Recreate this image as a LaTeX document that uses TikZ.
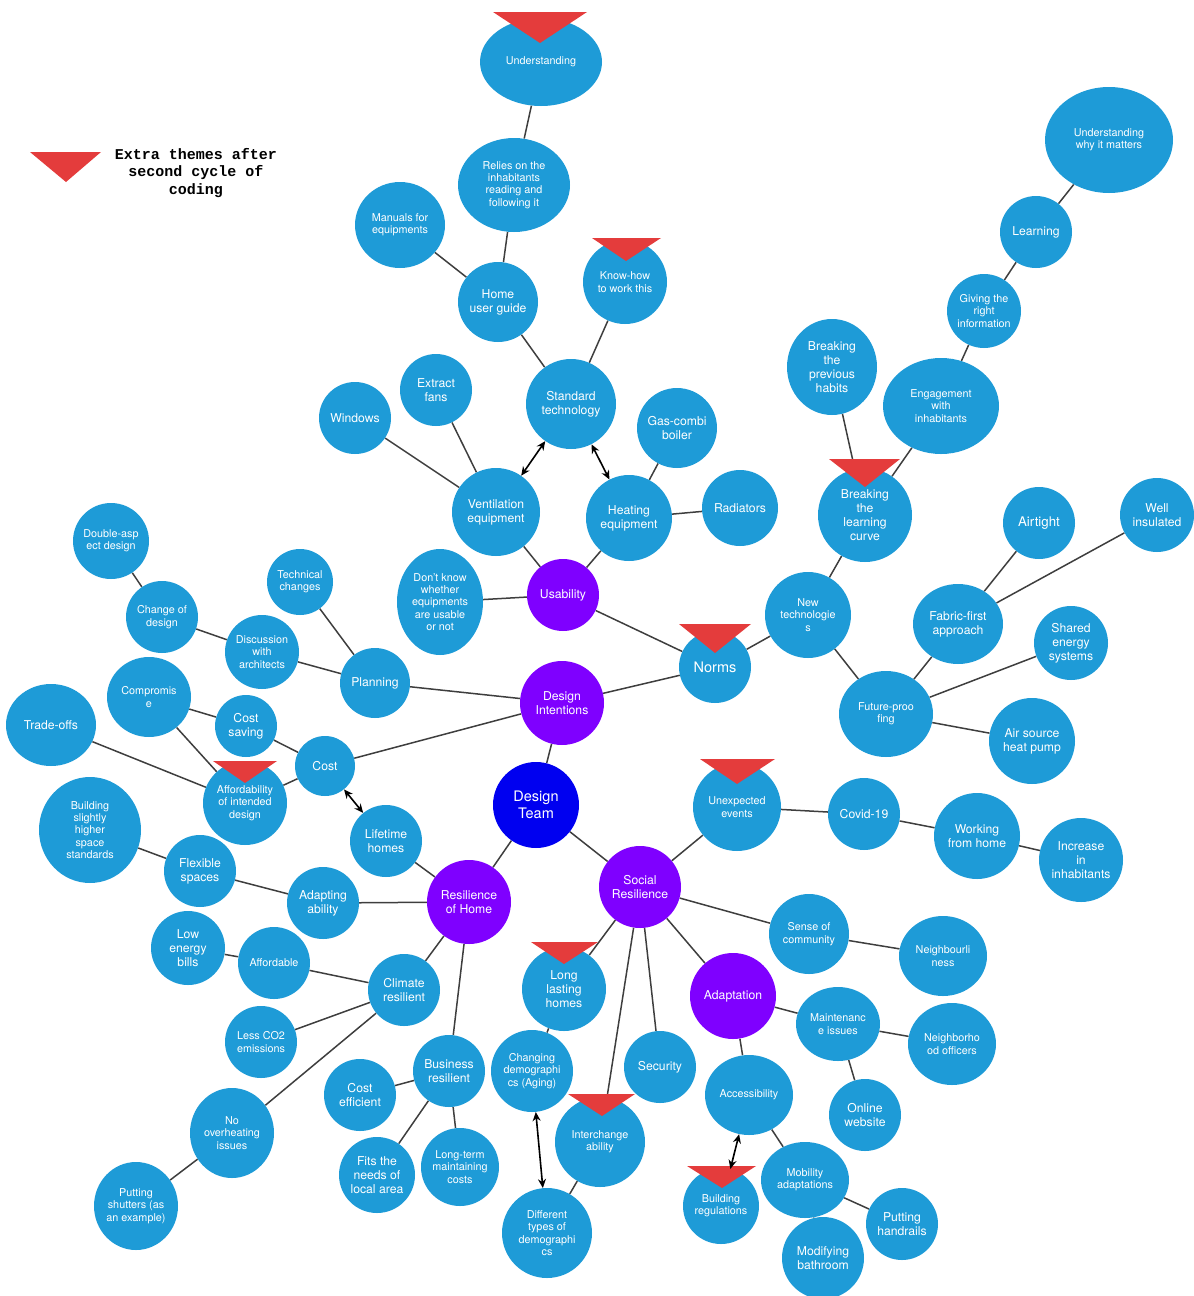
\documentclass[tikz,border=0pt]{standalone}
\usepackage{fontspec}
\setmainfont{TeX Gyre Heros}
\newfontfamily\legendfont{Liberation Mono}
\usetikzlibrary{shapes.geometric,arrows.meta,backgrounds}

\definecolor{bubblue}{RGB}{30,155,215}
\definecolor{themepurple}{RGB}{127,0,255}
\definecolor{coreblue}{RGB}{0,0,240}
\definecolor{newred}{RGB}{228,60,60}
\definecolor{linkgray}{RGB}{62,62,62}

\tikzset{
  bub/.style={circle, fill=bubblue, text=white, inner sep=0pt, align=center},
  ell/.style={ellipse, fill=bubblue, text=white, inner sep=0pt, align=center},
  theme/.style={bub, fill=themepurple},
  core/.style={bub, fill=coreblue},
  fs/.style={font=\fontsize{10.8}{12.3}\selectfont},
  fm/.style={font=\fontsize{12.2}{14}\selectfont},
  fb/.style={font=\fontsize{13.3}{15}\selectfont},
  fl/.style={font=\fontsize{14.5}{16.5}\selectfont},
  link/.style={draw=linkgray, line width=1.5pt},
  both/.style={{Stealth[length=9pt,width=8pt]}-{Stealth[length=9pt,width=8pt]}, line width=1.6pt, draw=black},
  newtheme/.style={fill=newred}
}

\begin{document}
\begin{tikzpicture}[x=1pt,y=-1pt]
\useasboundingbox (0,0) rectangle (1194,1296);

% ---------- usability branch ----------
\node[ell,fs,minimum width=122pt,minimum height=88pt] (und) at (541,62) {Understanding};
\node[ell,fs,minimum width=112pt,minimum height=94pt] (relies) at (514,185) {Relies on the\\inhabitants\\reading and\\following it};
\node[ell,fs,minimum width=90pt,minimum height=86pt] (manuals) at (400,225) {Manuals for\\equipments};
\node[bub,fm,minimum size=80pt] (guide) at (498,302) {Home\\user guide};
\node[bub,fs,minimum size=84pt] (knowhow) at (625,282) {Know-how\\to work this};
\node[bub,fm,minimum size=90pt] (stdtech) at (571,404) {Standard\\technology};
\node[bub,fm,minimum size=72pt] (fans) at (436,390) {Extract\\fans};
\node[bub,fm,minimum size=72pt] (windows) at (355,418) {Windows};
\node[bub,fm,minimum size=80pt] (boiler) at (677,428) {Gas-combi\\boiler};
\node[bub,fm,minimum size=88pt] (vent) at (496,512) {Ventilation\\equipment};
\node[bub,fm,minimum size=86pt] (heat) at (629,518) {Heating\\equipment};
\node[bub,fm,minimum size=76pt] (radiators) at (740,508) {Radiators};
\node[theme,fm,minimum size=72pt] (usability) at (563,595) {Usability};
\node[ell,fs,minimum width=86pt,minimum height=106pt] (dontknow) at (440,602) {Don’t know\\whether\\equipments\\are usable\\or not};

% ---------- centre ----------
\node[bub,fl,minimum size=72pt] (norms) at (715,667) {Norms};
\node[theme,fm,minimum size=84pt] (intent) at (562,703) {Design\\Intentions};
\node[core,fl,minimum size=86pt] (team) at (536,805) {Design\\Team};
\node[bub,fs,minimum size=88pt] (unexp) at (737,807) {Unexpected\\events};

% ---------- norms branch ----------
\node[ell,fs,minimum width=128pt,minimum height=106pt] (why) at (1109,140) {Understanding\\why it matters};
\node[bub,fm,minimum size=72pt] (learning) at (1036,232) {Learning};
\node[bub,fs,minimum size=74pt] (giving) at (984,311) {Giving the\\right\\information};
\node[ell,fm,minimum width=90pt,minimum height=96pt] (habits) at (832,367) {Breaking\\the\\previous\\habits};
\node[ell,fs,minimum width=116pt,minimum height=96pt] (engage) at (941,406) {Engagement\\with\\inhabitants};
\node[bub,fm,minimum size=94pt] (curve) at (865,515) {Breaking\\the\\learning\\curve};
\node[bub,fs,minimum size=86pt] (newtech) at (808,615) {New\\technologie\\s};
\node[bub,fb,minimum size=72pt] (airtight) at (1039,523) {Airtight};
\node[bub,fm,minimum size=74pt] (insulated) at (1157,515) {Well\\insulated};
\node[ell,fm,minimum width=90pt,minimum height=80pt] (fabric) at (958,624) {Fabric-first\\approach};
\node[bub,fm,minimum size=74pt] (shared) at (1071,643) {Shared\\energy\\systems};
\node[ell,fs,minimum width=94pt,minimum height=86pt] (future) at (886,714) {Future-proo\\fing};
\node[bub,fm,minimum size=86pt] (pump) at (1032,741) {Air source\\heat pump};

% ---------- design intentions branch ----------
\node[bub,fs,minimum size=76pt] (double) at (111,541) {Double-asp\\ect design};
\node[bub,fs,minimum size=72pt] (change) at (162,617) {Change of\\design};
\node[bub,fs,minimum size=66pt] (technical) at (300,582) {Technical\\changes};
\node[bub,fs,minimum size=74pt] (discuss) at (262,652) {Discussion\\with\\architects};
\node[bub,fm,minimum size=70pt] (planning) at (375,683) {Planning};
\node[ell,fs,minimum width=84pt,minimum height=80pt] (compromise) at (149,697) {Compromis\\e};
\node[ell,fm,minimum width=90pt,minimum height=82pt] (tradeoffs) at (51,725) {Trade-offs};
\node[bub,fm,minimum size=62pt] (saving) at (246,726) {Cost\\saving};
\node[bub,fm,minimum size=60pt] (cost) at (325,766) {Cost};
\node[bub,fs,minimum size=84pt] (afford) at (245,803) {Affordability\\of intended\\design};

% ---------- resilience of home branch ----------
\node[bub,fm,minimum size=72pt] (lifetime) at (386,841) {Lifetime\\homes};
\node[ell,fs,minimum width=102pt,minimum height=106pt] (higher) at (90,830) {Building\\slightly\\higher\\space\\standards};
\node[bub,fm,minimum size=72pt] (flexible) at (200,871) {Flexible\\spaces};
\node[bub,fm,minimum size=72pt] (adapting) at (323,903) {Adapting\\ability};
\node[bub,fm,minimum size=74pt] (bills) at (188,948) {Low\\energy\\bills};
\node[bub,fs,minimum size=72pt] (affordable) at (274,963) {Affordable};
\node[bub,fm,minimum size=72pt] (climate) at (404,990) {Climate\\resilient};
\node[bub,fs,minimum size=72pt] (co2) at (261,1042) {Less CO2\\emissions};
\node[bub,fm,minimum size=72pt] (efficient) at (360,1095) {Cost\\efficient};
\node[ell,fs,minimum width=84pt,minimum height=90pt] (overheat) at (232,1133) {No\\overheating\\issues};
\node[ell,fs,minimum width=84pt,minimum height=88pt] (shutters) at (136,1206) {Putting\\shutters (as\\an example)};
\node[bub,fm,minimum size=76pt] (fits) at (377,1175) {Fits the\\needs of\\local area};
\node[theme,fm,minimum size=84pt] (home) at (469,902) {Resilience\\of Home};
\node[bub,fm,minimum size=72pt] (business) at (449,1071) {Business\\resilient};
\node[bub,fs,minimum size=78pt] (longterm) at (460,1167) {Long-term\\maintaining\\costs};

% ---------- social resilience branch ----------
\node[theme,fm,minimum size=82pt] (social) at (640,887) {Social\\Resilience};
\node[bub,fm,minimum size=72pt] (covid) at (864,814) {Covid-19};
\node[bub,fm,minimum size=86pt] (wfh) at (977,836) {Working\\from home};
\node[bub,fm,minimum size=84pt] (increase) at (1081,860) {Increase\\in\\inhabitants};
\node[bub,fm,minimum size=84pt] (lasting) at (564,989) {Long\\lasting\\homes};
\node[bub,fs,minimum size=82pt] (changing) at (532,1071) {Changing\\demographi\\cs (Aging)};
\node[bub,fm,minimum size=72pt] (security) at (660,1067) {Security};
\node[bub,fs,minimum size=90pt] (interchange) at (600,1142) {Interchange\\ability};
\node[bub,fs,minimum size=90pt] (types) at (547,1233) {Different\\types of\\demographi\\cs};
\node[theme,fm,minimum size=86pt] (adaptation) at (733,996) {Adaptation};
\node[ell,fs,minimum width=88pt,minimum height=80pt] (access) at (749,1095) {Accessibility};
\node[bub,fs,minimum size=76pt] (regs) at (721,1206) {Building\\regulations};
\node[ell,fs,minimum width=88pt,minimum height=76pt] (mobility) at (805,1180) {Mobility\\adaptations};
\node[bub,fm,minimum size=82pt] (bathroom) at (823,1258) {Modifying\\bathroom};
\node[bub,fm,minimum size=72pt] (handrails) at (902,1224) {Putting\\handrails};
\node[bub,fs,minimum size=80pt] (sense) at (809,934) {Sense of\\community};
\node[ell,fs,minimum width=88pt,minimum height=80pt] (neighbour) at (943,956) {Neighbourli\\ness};
\node[ell,fs,minimum width=84pt,minimum height=74pt] (maint) at (838,1024) {Maintenanc\\e issues};
\node[ell,fs,minimum width=88pt,minimum height=82pt] (officers) at (952,1044) {Neighborho\\od officers};
\node[bub,fm,minimum size=72pt] (website) at (865,1115) {Online\\website};

% ---------- connectors ----------
\begin{scope}[on background layer]
  \foreach \a/\b in {und/relies, relies/guide, manuals/guide, guide/stdtech, knowhow/stdtech,
      windows/vent, fans/vent, boiler/heat, radiators/heat,
      vent/usability, heat/usability, dontknow/usability,
      usability/norms, norms/intent, norms/newtech,
      newtech/curve, curve/habits, curve/engage, engage/giving, giving/learning, learning/why,
      newtech/future, future/fabric, fabric/airtight, fabric/insulated, future/shared, future/pump,
      intent/planning, planning/technical, planning/discuss, discuss/change, change/double,
      intent/cost, cost/saving, saving/compromise, compromise/afford, cost/afford, tradeoffs/afford,
      intent/team, team/home, team/social,
      lifetime/home, home/adapting, adapting/flexible, flexible/higher,
      home/climate, climate/affordable, affordable/bills, climate/co2, climate/overheat, overheat/shutters,
      home/business, business/efficient, business/fits, business/longterm,
      social/unexp, unexp/covid, covid/wfh, wfh/increase,
      social/sense, sense/neighbour,
      social/lasting, lasting/changing, social/interchange, interchange/types, social/security,
      social/adaptation, adaptation/maint, maint/officers, maint/website,
      adaptation/access, access/mobility, mobility/handrails, mobility/bathroom}
    \draw[link] (\a) -- (\b);
\end{scope}

% ---------- themes added in the second coding cycle ----------
\fill[newtheme] (493,12) -- (587,12) -- (540,43) -- cycle;
\fill[newtheme] (592,238) -- (661,238) -- (626,261) -- cycle;
\fill[newtheme] (829,459) -- (900,459) -- (865,487) -- cycle;
\fill[newtheme] (679,624) -- (751,624) -- (715,653) -- cycle;
\fill[newtheme] (213,761) -- (277,761) -- (245,783) -- cycle;
\fill[newtheme] (700,759) -- (775,759) -- (737,784) -- cycle;
\fill[newtheme] (531,942) -- (598,942) -- (564,964) -- cycle;
\fill[newtheme] (568,1094) -- (635,1094) -- (602,1116) -- cycle;
\fill[newtheme] (687,1166) -- (756,1166) -- (722,1188) -- cycle;

% ---------- two-way relations ----------
\draw[both] (stdtech) -- (vent);
\draw[both] (stdtech) -- (heat);
\draw[both] (cost) -- (lifetime);
\draw[both] (changing) -- (types);
\draw[both] (access) -- (regs);

% ---------- legend ----------
\fill[newtheme] (30,152) -- (101,152) -- (66,182) -- cycle;
\node[font=\legendfont\bfseries\fontsize{15}{17.3}\selectfont, align=center] (legend) at (196,173) {Extra themes after\\second cycle of\\coding};

\end{tikzpicture}
\end{document}
